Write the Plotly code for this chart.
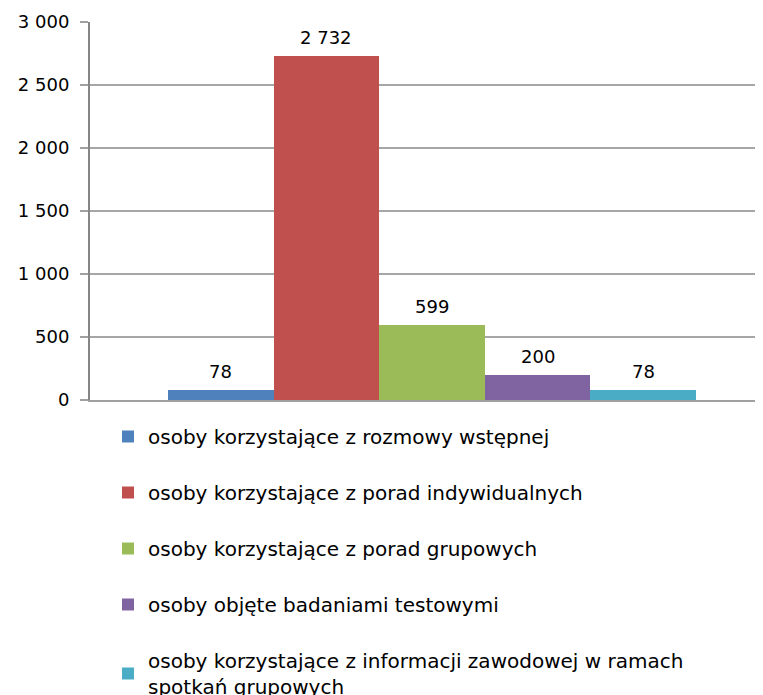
import plotly.graph_objects as go

categories = [
    "osoby korzystające z rozmowy wstępnej",
    "osoby korzystające z porad indywidualnych",
    "osoby korzystające z porad grupowych",
    "osoby objęte badaniami testowymi",
    "osoby korzystające z informacji zawodowej w ramach<br>spotkań grupowych",
]
values = [78, 2732, 599, 200, 78]
colors = ["#4F81BD", "#C0504D", "#9BBB59", "#8064A2", "#4BACC6"]
ytick_vals = [0, 500, 1000, 1500, 2000, 2500, 3000]

FONT = "DejaVu Sans"
W, H = 755, 687

fig = go.Figure()
for i, (name, v, c) in enumerate(zip(categories, values, colors)):
    fig.add_trace(go.Bar(
        x=[i], y=[v], name=name, marker=dict(color=c, line=dict(width=0)),
        width=1.0, legendgroup=f"g{i}", hoverinfo="skip",
    ))
    fig.add_annotation(
        x=i, y=v, text=f"{v:,}".replace(",", " "), showarrow=False,
        yanchor="middle", yshift=19, bgcolor="white", height=32, borderpad=1,
        font=dict(family=FONT, size=18, color="#000000"),
    )

fig.update_layout(
    width=W, height=H,
    margin=dict(l=82, r=0, t=14, b=295, autoexpand=False),
    paper_bgcolor="white", plot_bgcolor="white",
    barmode="overlay", bargap=0,
    separators=", ",
    font=dict(family=FONT, size=18, color="#000000"),
    showlegend=True,
    legend=dict(
        orientation="v", xref="container", yref="container",
        x=100 / W, xanchor="left", y=1 - 409 / H, yanchor="top",
        traceorder="grouped", tracegroupgap=27,
        font=dict(family=FONT, size=20, color="#000000"),
        bgcolor="rgba(0,0,0,0)", itemwidth=30,
    ),
    xaxis=dict(
        range=[-1.239, 5.134], showticklabels=False, showgrid=False,
        zeroline=False, showline=True, linecolor="#A0A0A0", linewidth=1.5,
        ticks="",
    ),
    yaxis=dict(
        range=[0, 3000], tickvals=ytick_vals, tickformat=",d",
        showgrid=True, gridcolor="#A6A6A6", gridwidth=1.5,
        zeroline=False, showline=True, linecolor="#868686", linewidth=2,
        ticks="outside", ticklen=8, tickcolor="#A0A0A0", tickwidth=1.5,
        ticklabelstandoff=7,
        tickfont=dict(family=FONT, size=18, color="#000000"),
    ),
)

fig.write_html("out.html")
